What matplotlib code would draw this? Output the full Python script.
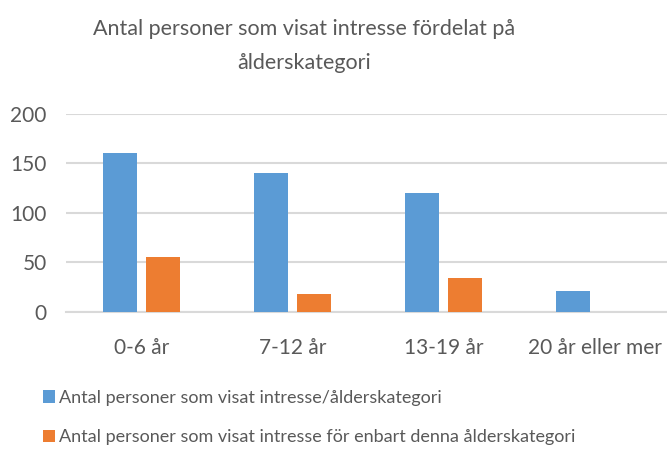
import matplotlib.pyplot as plt
import numpy as np

plt.rcParams['font.family'] = ['Lato', 'DejaVu Sans']

# Data
categories = ["0-6 år", "7-12 år", "13-19 år", "20 år eller mer"]
visat_intresse = [161, 140, 120, 21]
enbart_denna = [55, 18, 34, 0]
series_names = ["Antal personer som visat intresse/ålderskategori",
                "Antal personer som visat intresse för enbart denna ålderskategori"]

W, H = 667, 450
text_color = "#595959"
grid_color = "#d9d9d9"

fig = plt.figure(figsize=(W / 100, H / 100), dpi=100)
# plot area in pixels: left 66, bottom 311.7, top 114
ax = fig.add_axes([66 / W, 1 - 311.7 / H, 601 / W, (311.7 - 114) / H])

x = np.arange(len(categories))
bw = 0.225
off = 0.142
ax.bar(x - off, visat_intresse, bw, color="#5b9bd5", label=series_names[0], zorder=3)
ax.bar(x + off, enbart_denna, bw, color="#ed7d31", label=series_names[1], zorder=3)

ax.set_xlim(-0.5, 3.48)
ax.set_ylim(0, 200)
ax.set_yticks([0, 50, 100, 150, 200])
ax.set_xticks(x)
ax.set_xticklabels(categories)
ax.yaxis.grid(True, color=grid_color, linewidth=1.5, zorder=0)
for s in ["top", "right", "left"]:
    ax.spines[s].set_visible(False)
ax.spines["bottom"].set_color(grid_color)
ax.spines["bottom"].set_linewidth(1.5)
ax.tick_params(axis="both", length=0, labelsize=15, labelcolor=text_color)
ax.tick_params(axis="y", pad=14)
ax.tick_params(axis="x", pad=19)

fig.text(304 / W, 1 - 19 / H, "Antal personer som visat intresse fördelat på\nålderskategori",
         ha="center", va="top", fontsize=15.5, color=text_color, linespacing=1.9)

leg = fig.legend(loc="upper left", bbox_to_anchor=(43 / W, 1 - 390 / H), frameon=False,
                 fontsize=13, labelcolor=text_color, handlelength=0.65, handleheight=0.7,
                 handletextpad=0.25, labelspacing=1.3, borderaxespad=0, borderpad=0)

fig.savefig("out.png", dpi=100)
